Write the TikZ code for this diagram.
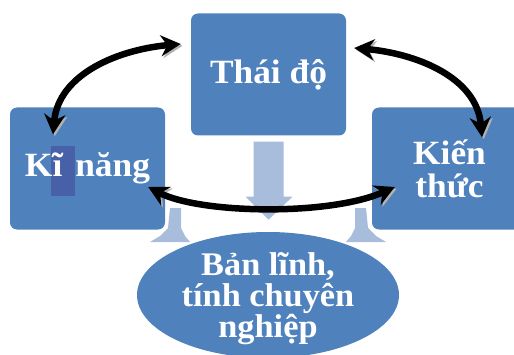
\documentclass[tikz,border=0pt]{standalone}
\usepackage{fontspec}
\setmainfont{Liberation Serif}[FakeStretch=1.04]
\usepackage{tikz}
\usetikzlibrary{shapes.geometric, arrows.meta}
\definecolor{boxblue}{RGB}{79,129,189}
\definecolor{paleblue}{RGB}{168,188,220}
\definecolor{hlblue}{RGB}{72,96,168}
\tikzset{
  %% ---- boxes ----
  card/.style   = {rectangle, rounded corners=7pt, fill=boxblue,
                   minimum width=155pt, minimum height=122pt,
                   align=center, text=white,
                   font=\fontsize{34}{33}\selectfont\bfseries},
  cardtext/.style = {align=center, text=white, inner sep=0pt,
                   font=\fontsize{34}{34}\selectfont\bfseries},
  goal/.style   = {ellipse, fill=boxblue, inner sep=0pt,
                   minimum width=262pt, minimum height=126pt},
  goaltext/.style = {align=center, text=white, inner sep=0pt,
                   font=\fontsize{33}{31}\selectfont\bfseries},
  flow/.style   = {fill=paleblue},
  %% ---- arrows ----
  linkarr/.style = {{Stealth[length=20pt,width=21pt]}-{Stealth[length=20pt,width=21pt]},
                   line width=6.5pt, draw=black,
                   preaction={draw=gray!60,
                              transform canvas={shift={(1.8pt,-1.8pt)}}}},
}
\begin{document}
\begin{tikzpicture}[x=1pt, y=1pt]
\useasboundingbox (0,0) rectangle (514,354);
\clip (0,0) rectangle (514,354);
%% pale arrows behind the boxes
\fill[flow] (170,146) -- (181,146) -- (181,126) -- (185,118) -- (190,112)
            -- (150,112) -- (160,118) -- (168,126) -- cycle;
\fill[flow] (366,146) -- (355,146) -- (355,126) -- (351,118) -- (346,112)
            -- (386,112) -- (376,118) -- (368,126) -- cycle;
%% boxes
\node[card] (td) at (268.5,279.5) {Thái độ};
\node[card] (kn) at (87.5,185.5)  {};
\node[card] (kt) at (449.5,185.5) {Kiến\\thức};
\node[goal] (bl) at (268,59) {};
\node[goaltext] (blt) at ([yshift=-4pt]bl.center) {Bản lĩnh,\\tính chuyên\\nghiệp};
\fill[hlblue] ([xshift=-36.5pt,yshift=-27.5pt]kn.center) rectangle ++(24,50);
\node[cardtext] (knt) at (kn) {Kĩ\hspace{13pt}năng};
\fill[flow] ([xshift=-15pt,yshift=-6pt]td.south) -- ++(30,0) -- ++(0,-55)
            -- ++(9,0) -- ++(-24,-23) -- ++(-23,23) -- ++(8,0) -- cycle;
%% curved links
\draw[linkarr] ([xshift=-34.5pt,yshift=-27pt]kn.north) to[out=85,in=185]
               ([xshift=-10pt,yshift=30.5pt]td.west);
\draw[linkarr] ([xshift=8pt,yshift=26.5pt]td.east) to[out=-5,in=95]
               ([xshift=32.5pt,yshift=-30pt]kt.north);
\draw[linkarr] ([xshift=-17pt,yshift=-18.5pt]kn.east) .. controls +(52,-27) and +(-65,-29)
               .. ([xshift=23pt,yshift=-18.5pt]kt.west);
\end{tikzpicture}
\end{document}
